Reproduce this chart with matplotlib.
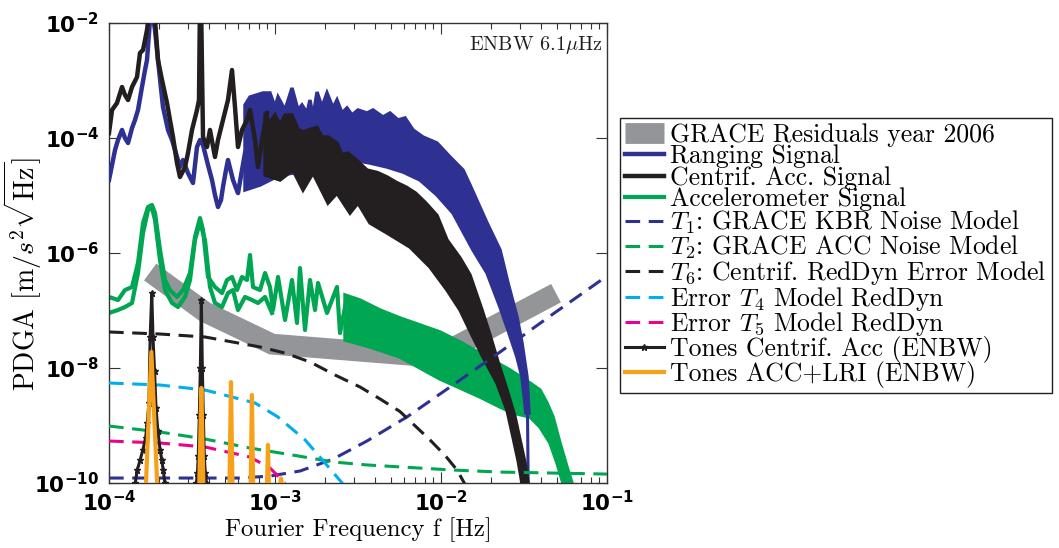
import matplotlib
matplotlib.use('Agg')
import matplotlib.pyplot as plt
import numpy as np
from matplotlib.ticker import LogLocator, NullLocator, NullFormatter

plt.rcParams['font.family'] = 'serif'
plt.rcParams['font.serif'] = ['cmr10', 'DejaVu Serif']
plt.rcParams['mathtext.fontset'] = 'cm'
plt.rcParams['axes.formatter.use_mathtext'] = True

# ---- data (frequency in Hz, PDGA value) ----
# GRACE residuals 2006 (thick grey band)
res_f = [1.77e-4, 3.79e-4, 9.6e-4, 7.46e-3, 1.06e-2, 4.93e-2]
res_v = [4.67e-7, 9.4e-8, 2.6e-8, 1.62e-8, 1.9e-8, 2.0e-7]

# ranging signal, low frequency part
rng_f = [1.00e-4, 1.043e-4, 1.087e-4, 1.133e-4, 1.198e-4, 1.248e-4, 1.302e-4, 1.376e-4, 1.434e-4,
         1.495e-4, 1.580e-4, 1.648e-4, 1.694e-4, 1.766e-4, 1.816e-4, 1.893e-4, 1.973e-4, 2.115e-4,
         2.267e-4, 2.397e-4, 2.498e-4, 2.677e-4, 2.791e-4, 2.991e-4, 3.206e-4, 3.389e-4, 3.533e-4,
         3.684e-4, 3.787e-4, 3.948e-4, 4.173e-4, 4.350e-4, 4.535e-4, 4.728e-4, 4.861e-4, 5.067e-4,
         5.210e-4, 5.432e-4, 5.585e-4, 5.822e-4, 5.985e-4, 6.327e-4, 6.597e-4]
rng_v = [1.86e-5, 3.39e-5, 6.18e-5, 9.23e-5, 1.38e-4, 1.0e-4, 8.18e-5, 1.49e-4, 2.06e-4,
         3.07e-4, 7.71e-4, 1.52e-3, 2.27e-3, 1.13e-2, 1.68e-2, 7.55e-3, 2.27e-3, 3.46e-4,
         1.38e-4, 9.23e-5, 6.18e-5, 3.13e-5, 4.14e-5, 2.46e-5, 1.65e-5, 6.97e-5, 9.23e-5,
         7.55e-5, 5.48e-5, 3.39e-5, 1.86e-5, 1.02e-5, 6.31e-6, 8.35e-6, 1.41e-5, 2.77e-5,
         4.14e-5, 2.56e-5, 1.86e-5, 1.35e-5, 1.10e-5, 2.77e-5, 5.48e-5]
# ranging signal, dense part: upper / lower edge
rng_up_f = [6.597e-4, 7.07e-4, 8.47e-4, 9.33e-4, 1.0e-3, 1.043e-3, 1.149e-3, 1.266e-3, 1.376e-3,
            1.454e-3, 1.559e-3, 1.625e-3, 1.694e-3, 1.791e-3, 1.919e-3, 2.057e-3, 2.236e-3,
            2.363e-3, 2.533e-3, 2.715e-3, 2.910e-3, 3.162e-3, 3.583e-3, 3.894e-3, 4.473e-3,
            4.929e-3, 5.508e-3, 6.07e-3, 6.783e-3, 7.79e-3, 9.46e-3, 1.133e-2, 1.357e-2, 1.495e-2,
            1.893e-2, 2.267e-2, 2.533e-2, 2.870e-2, 3.076e-2, 3.296e-2, 3.388e-2]
rng_up_v = [3.75e-4, 5.16e-4, 6.07e-4, 6.07e-4, 3.46e-4, 5.16e-4, 3.07e-4, 7.41e-4, 3.07e-4,
            3.75e-4, 2.72e-4, 4.58e-4, 2.32e-4, 6.31e-4, 3.46e-4, 6.07e-4, 3.33e-4,
            4.58e-4, 2.72e-4, 3.33e-4, 2.51e-4, 3.07e-4, 2.72e-4, 3.07e-4, 2.32e-4,
            2.72e-4, 2.06e-4, 2.23e-4, 1.38e-4, 1.04e-4, 8.18e-5, 4.68e-5, 2.77e-5, 1.52e-5,
            3.33e-6, 1.13e-6, 3.01e-7, 7.71e-8, 2.72e-8, 6.97e-9, 1.65e-9]
rng_lo_f = [6.597e-4, 8.12e-4, 1.072e-3, 1.414e-3, 1.867e-3, 2.464e-3, 2.951e-3, 3.735e-3, 4.729e-3,
            5.903e-3, 7.472e-3, 9.46e-3, 1.181e-2, 1.559e-2, 1.893e-2, 2.267e-2, 2.533e-2,
            2.870e-2, 3.076e-2, 3.251e-2]
rng_lo_v = [1.25e-5, 1.52e-5, 2.27e-5, 2.56e-5, 3.01e-5, 3.83e-5, 4.14e-5, 3.67e-5, 3.13e-5,
            2.56e-5, 1.86e-5, 1.02e-5, 4.96e-6, 1.13e-6, 4.49e-7, 1.15e-7, 4.58e-8,
            1.55e-8, 6.97e-9, 1.65e-9]
rng_tail_f = [3.32e-2, 3.35e-2]
rng_tail_v = [1.65e-9, 1.0e-10]

# centrifugal acceleration signal
cen_f = [1.00e-4, 1.043e-4, 1.117e-4, 1.198e-4, 1.248e-4, 1.302e-4, 1.376e-4, 1.475e-4, 1.537e-4,
         1.603e-4, 1.694e-4, 1.766e-4, 1.893e-4, 1.973e-4, 2.086e-4, 2.236e-4, 2.330e-4, 2.430e-4,
         2.568e-4, 2.677e-4, 2.870e-4, 2.991e-4, 3.162e-4, 3.389e-4, 3.484e-4, 3.533e-4, 3.583e-4,
         3.684e-4, 3.894e-4, 4.058e-4, 4.350e-4, 4.535e-4, 4.861e-4, 5.210e-4, 5.508e-4, 5.741e-4,
         5.985e-4, 6.327e-4, 6.783e-4, 7.07e-4, 7.58e-4, 7.90e-4, 8.35e-4, 8.95e-4]
cen_v = [1.22e-4, 3.07e-4, 4.06e-4, 7.71e-4, 5.6e-4, 4.58e-4, 7.71e-4, 1.15e-3, 3.01e-3,
         3.39e-3, 7.55e-3, 2.06e-2, 1.13e-2, 2.27e-3, 1.02e-3, 4.06e-4, 2.06e-4, 1.04e-4,
         3.67e-5, 2.10e-5, 3.13e-5, 5.48e-5, 1.38e-4, 3.07e-4, 4.58e-4, 2.5e-2, 2.5e-2,
         1.04e-4, 6.97e-5, 1.38e-4, 4.68e-5, 9.23e-5, 2.06e-4, 4.58e-4, 1.52e-3, 3.46e-4,
         6.97e-5, 1.38e-4, 2.06e-4, 3.07e-4, 9.23e-5, 3.13e-5, 9.23e-5, 2.72e-4]
cen_up_f = [8.71e-4, 9.33e-4, 1.0e-3, 1.072e-3, 1.149e-3, 1.266e-3, 1.376e-3, 1.475e-3, 1.625e-3,
            1.791e-3, 1.919e-3, 2.086e-3, 2.363e-3, 2.533e-3, 2.743e-3, 3.075e-3, 3.583e-3,
            4.153e-3, 4.729e-3, 5.402e-3, 6.17e-3, 7.03e-3, 8.06e-3, 9.46e-3, 1.087e-2, 1.302e-2,
            1.495e-2, 1.766e-2, 1.973e-2, 2.205e-2, 2.498e-2, 2.791e-2, 2.991e-2, 3.206e-2, 3.343e-2]
cen_up_v = [2.72e-4, 1.86e-4, 2.51e-4, 1.68e-4, 2.51e-4, 2.51e-4, 1.41e-4, 1.27e-4, 1.41e-4,
            1.52e-4, 1.04e-4, 1.04e-4, 8.18e-5, 5.1e-5, 5.5e-5, 4.2e-5, 2.77e-5,
            2.5e-5, 2.10e-5, 1.68e-5, 1.4e-5, 1.1e-5, 7.5e-6, 4.5e-6, 1.68e-6, 8.18e-7,
            4.14e-7, 1.02e-7, 3.75e-8, 1.27e-8, 4.14e-9, 1.41e-9, 5.6e-10, 2.23e-10, 1.0e-10]
cen_lo_f = [8.71e-4, 1.072e-3, 1.283e-3, 1.475e-3, 1.694e-3, 2.086e-3, 2.363e-3, 2.830e-3, 3.162e-3,
            3.735e-3, 4.729e-3, 6.507e-3, 8.585e-3, 1.087e-2, 1.302e-2, 1.559e-2, 1.791e-2,
            2.174e-2, 2.498e-2, 2.715e-2, 2.910e-2, 3.076e-2]
cen_lo_v = [2.27e-5, 1.86e-5, 2.77e-5, 1.25e-5, 2.46e-5, 7.41e-6, 1.10e-5, 4.96e-6, 7.41e-6,
            3.33e-6, 2.23e-6, 1.27e-6, 5.71e-7, 2.27e-7, 1.02e-7, 3.46e-8, 1.55e-8,
            5.48e-9, 1.86e-9, 6.31e-10, 2.51e-10, 1.0e-10]

# accelerometer signal (two traces at low frequency, then a dense band)
acc_a_f = [1.00e-4, 1.133e-4, 1.248e-4, 1.376e-4, 1.495e-4, 1.603e-4, 1.718e-4, 1.816e-4, 1.893e-4,
           2.029e-4, 2.175e-4, 2.330e-4, 2.568e-4, 2.791e-4, 3.076e-4, 3.296e-4, 3.533e-4, 3.684e-4,
           3.948e-4, 4.350e-4, 4.794e-4, 5.138e-4, 5.508e-4, 5.903e-4, 6.327e-4, 6.783e-4, 7.07e-4,
           7.37e-4, 8.12e-4, 8.71e-4, 9.33e-4, 9.73e-4, 1.043e-3, 1.149e-3, 1.266e-3, 1.357e-3,
           1.414e-3, 1.516e-3, 1.625e-3, 1.742e-3, 1.816e-3, 2.057e-3, 2.363e-3, 2.464e-3,
           2.715e-3, 2.910e-3]
acc_a_v = [1.72e-7, 1.52e-7, 2.27e-7, 2.56e-7, 6.70e-7, 3.33e-6, 6.31e-6, 6.84e-6, 4.96e-6,
           1.13e-6, 3.39e-7, 2.27e-7, 1.72e-7, 2.27e-7, 4.49e-7, 1.90e-6, 4.06e-6, 2.51e-6,
           3.83e-7, 2.56e-7, 2.01e-7, 3.39e-7, 3.83e-7, 2.27e-7, 3.83e-7, 3.39e-7, 9.23e-7,
           2.56e-7, 2.27e-7, 4.49e-7, 2.56e-7, 1.02e-7, 3.83e-7, 6.84e-8, 3.39e-7, 6.07e-8,
           5.48e-7, 4.58e-8, 3.39e-7, 1.02e-7, 3.01e-7, 9.06e-8, 2.56e-7, 4.06e-8,
           1.72e-7, 4.58e-8]
acc_b_f = [1.00e-4, 1.133e-4, 1.248e-4, 1.376e-4, 1.495e-4, 1.603e-4, 1.718e-4, 1.816e-4, 1.893e-4,
           2.029e-4, 2.175e-4, 2.397e-4, 2.604e-4, 2.870e-4, 3.076e-4, 3.296e-4, 3.533e-4, 3.787e-4,
           4.058e-4, 4.350e-4, 4.794e-4, 5.210e-4, 5.585e-4, 5.985e-4, 6.597e-4, 7.27e-4, 7.90e-4,
           8.71e-4, 9.59e-4]
acc_b_v = [9.06e-8, 1.02e-7, 1.15e-7, 1.35e-7, 4.49e-7, 2.23e-6, 5.6e-6, 6.07e-6, 3.75e-6,
           7.55e-7, 2.27e-7, 1.35e-7, 1.15e-7, 1.72e-7, 3.39e-7, 1.68e-6, 3.46e-6, 1.68e-6,
           2.56e-7, 1.35e-7, 1.15e-7, 2.01e-7, 2.27e-7, 1.02e-7, 1.72e-7, 1.52e-7, 1.35e-7,
           1.72e-7, 9.06e-8]
acc_up_f = [2.641e-3, 3.251e-3, 4.291e-3, 5.662e-3, 7.472e-3, 9.86e-3, 1.302e-2, 1.893e-2, 2.604e-2,
            3.437e-2, 3.948e-2, 4.350e-2, 4.728e-2, 5.21e-2, 5.741e-2, 6.153e-2]
acc_up_v = [1.86e-7, 1.52e-7, 1.02e-7, 7.41e-8, 5.6e-8, 4.23e-8, 2.83e-8, 1.55e-8, 9.23e-9,
            5.48e-9, 4.14e-9, 2.46e-9, 1.41e-9, 4.96e-10, 1.9e-10, 1.0e-10]
acc_lo_f = [2.641e-3, 3.735e-3, 5.662e-3, 7.472e-3, 9.86e-3, 1.302e-2, 1.718e-2, 2.267e-2, 2.715e-2,
            3.437e-2, 3.948e-2, 4.535e-2, 5.0e-2, 5.43e-2]
acc_lo_v = [3.07e-8, 2.32e-8, 1.55e-8, 1.0e-8, 6.44e-9, 4.49e-9, 3.13e-9, 2.10e-9, 1.65e-9,
            1.41e-9, 9.4e-10, 4.96e-10, 2.23e-10, 1.0e-10]

# noise / error models
t1_f = [1.0e-4, 6.15e-4, 9.33e-4, 1.42e-3, 2.24e-3, 3.58e-3, 6.24e-3, 1.18e-2, 2.27e-2, 4.73e-2, 1.0e-1]
t1_v = [1.22e-10, 1.22e-10, 1.32e-10, 1.62e-10, 2.61e-10, 5.37e-10, 1.41e-9, 5.06e-9, 1.9e-8, 8.7e-8, 3.98e-7]
t2_f = [1.0e-4, 2.03e-4, 3.79e-4, 7.06e-4, 1.38e-3, 2.24e-3, 3.58e-3, 1.18e-2, 2.27e-2, 1.0e-1]
t2_v = [9.8e-10, 7.7e-10, 5.82e-10, 4.06e-10, 2.95e-10, 2.32e-10, 2.06e-10, 1.68e-10, 1.55e-10, 1.43e-10]
t6_f = [1.0e-4, 2.03e-4, 3.79e-4, 8.13e-4, 1.15e-3, 1.63e-3, 2.30e-3, 3.25e-3, 4.29e-3, 5.66e-3,
        8.59e-3, 1.06e-2, 1.25e-2, 1.40e-2]
t6_v = [4.23e-8, 3.9e-8, 3.46e-8, 2.32e-8, 1.82e-8, 1.27e-8, 7.55e-9, 4.68e-9, 2.9e-9, 1.75e-9,
        5.6e-10, 3.0e-10, 1.68e-10, 9.3e-11]
t4_f = [1.0e-4, 2.03e-4, 3.79e-4, 7.59e-4, 1.04e-3, 1.52e-3, 2.57e-3]
t4_v = [5.48e-9, 5.06e-9, 4.14e-9, 2.46e-9, 1.41e-9, 5.6e-10, 9.6e-11]
t5_f = [1.0e-4, 2.03e-4, 3.79e-4, 7.06e-4, 9.33e-4, 1.15e-3]
t5_v = [5.37e-10, 4.96e-10, 4.23e-10, 2.83e-10, 1.82e-10, 1.0e-10]

# tones of the centrifugal acceleration (ENBW)
tone1_f = [1.44e-4, 1.48e-4, 1.54e-4, 1.60e-4, 1.66e-4, 1.70e-4, 1.74e-4, 1.77e-4, 1.81e-4,
           1.84e-4, 1.88e-4, 1.92e-4, 1.97e-4, 2.03e-4, 2.08e-4, 2.12e-4, 2.17e-4]
tone1_v = [1.0e-10, 1.7e-10, 2.5e-10, 3.8e-10, 6.0e-10, 1.1e-9, 2.5e-9, 3.5e-8, 2.0e-7,
           3.5e-8, 9.0e-9, 2.0e-9, 8.0e-10, 3.8e-10, 2.5e-10, 1.7e-10, 1.0e-10]
tone2_f = [3.36e-4, 3.41e-4, 3.45e-4, 3.50e-4, 3.55e-4, 3.60e-4, 3.65e-4, 3.70e-4, 3.75e-4, 3.80e-4, 3.86e-4]
tone2_v = [1.0e-10, 1.5e-10, 3.0e-10, 1.5e-9, 1.0e-8, 1.5e-7, 1.0e-8, 1.5e-9, 3.0e-10, 1.5e-10, 1.0e-10]

# tones ACC+LRI (ENBW): peak frequency, peak value, foot left / right
lri_f = [1.80e-4, 3.60e-4, 5.43e-4, 7.26e-4, 9.07e-4, 1.087e-3]
lri_v = [1.9e-8, 4.5e-9, 5.7e-9, 3.4e-9, 4.6e-10, 1.2e-10]
lri_lo = [1.67e-4, 3.50e-4, 5.32e-4, 7.14e-4, 8.96e-4, 1.076e-3]
lri_hi = [1.95e-4, 3.70e-4, 5.54e-4, 7.38e-4, 9.18e-4, 1.098e-3]
lri_floor = 1.0e-10

xtick_vals = [1e-4, 1e-3, 1e-2, 1e-1]
xtick_labels = [r'$\mathbf{10^{-4}}$', r'$\mathbf{10^{-3}}$', r'$\mathbf{10^{-2}}$', r'$\mathbf{10^{-1}}$']
ytick_vals = [1e-10, 1e-8, 1e-6, 1e-4, 1e-2]
ytick_labels = [r'$\mathbf{10^{-10}}$', r'$\mathbf{10^{-8}}$', r'$\mathbf{10^{-6}}$',
                r'$\mathbf{10^{-4}}$', r'$\mathbf{10^{-2}}$']

C_BLUE = '#2E3192'
C_BLACK = '#231F20'
C_GREEN = '#00A651'
C_GRAY = '#939598'
C_CYAN = '#00AEEF'
C_MAGENTA = '#EC008C'
C_ORANGE = '#F7A11A'
DASH = (0, (4.8, 2.8))

fig = plt.figure(figsize=(10.59, 5.48), dpi=100)
ax = fig.add_axes([109 / 1059, 1 - 483 / 548, 498 / 1059, 460 / 548])
ax.set_xscale('log')
ax.set_yscale('log')

h_res, = ax.plot(res_f, res_v, color=C_GRAY, lw=15, solid_capstyle='butt',
                 solid_joinstyle='miter', zorder=1)

# accelerometer
h_acc, = ax.plot(acc_a_f, acc_a_v, color=C_GREEN, lw=3.0, zorder=2)
ax.plot(acc_b_f, acc_b_v, color=C_GREEN, lw=3.0, zorder=2)
ax.fill(acc_up_f + acc_lo_f[::-1], acc_up_v + acc_lo_v[::-1], color=C_GREEN, lw=2.5, zorder=2)

# ranging
h_rng, = ax.plot(rng_f, rng_v, color=C_BLUE, lw=3.2, zorder=3)
ax.fill(rng_up_f + rng_lo_f[::-1], rng_up_v + rng_lo_v[::-1], color=C_BLUE, lw=2.5, zorder=3)
ax.plot(rng_tail_f, rng_tail_v, color=C_BLUE, lw=2.2, zorder=3)

# centrifugal
h_cen, = ax.plot(cen_f, cen_v, color=C_BLACK, lw=3.2, zorder=4)
ax.fill(cen_up_f + cen_lo_f[::-1], cen_up_v + cen_lo_v[::-1], color=C_BLACK, lw=2.5, zorder=4)

# models
h_t1, = ax.plot(t1_f, t1_v, color=C_BLUE, lw=2.2, ls=DASH, zorder=5)
h_t2, = ax.plot(t2_f, t2_v, color=C_GREEN, lw=2.2, ls=DASH, zorder=5)
h_t6, = ax.plot(t6_f, t6_v, color=C_BLACK, lw=2.2, ls=DASH, zorder=5)
h_t4, = ax.plot(t4_f, t4_v, color=C_CYAN, lw=2.2, ls=DASH, zorder=5)
h_t5, = ax.plot(t5_f, t5_v, color=C_MAGENTA, lw=2.2, ls=DASH, zorder=5)

# tones
h_tone, = ax.plot(tone1_f, tone1_v, color=C_BLACK, lw=2.2, marker='*', ms=5, zorder=6)
ax.plot(tone2_f, tone2_v, color=C_BLACK, lw=2.2, marker='*', ms=5, zorder=6)
for i in range(len(lri_f)):
    h_lri, = ax.plot([lri_lo[i], lri_f[i], lri_hi[i]], [lri_floor, lri_v[i], lri_floor],
                     color=C_ORANGE, lw=3.0, zorder=7)

ax.set_xlim(1e-4, 1e-1)
ax.set_ylim(1e-10, 1e-2)

ax.set_xticks(xtick_vals, xtick_labels, math_fontfamily='dejavusans', fontsize=15.5)
ax.set_yticks(ytick_vals, ytick_labels, math_fontfamily='dejavusans', fontsize=15.5)
ax.xaxis.set_minor_locator(LogLocator(base=10, subs=np.arange(2, 10) * 1.0, numticks=20))
ax.xaxis.set_minor_formatter(NullFormatter())
ax.yaxis.set_minor_locator(NullLocator())
ax.tick_params(which='both', direction='in', top=True, right=True, width=0.8, color='#333333')
ax.tick_params(which='major', length=8)
ax.tick_params(which='minor', length=4)
ax.tick_params(axis='x', pad=5)
ax.tick_params(axis='y', pad=7)
for sp in ax.spines.values():
    sp.set_linewidth(1.0)
    sp.set_color('#333333')

ax.set_xlabel('Fourier Frequency f [Hz]', fontsize=17.8)
ax.xaxis.set_label_coords(0.5, -0.075)
ax.set_ylabel(r'PDGA $[\mathrm{m}/s^2\sqrt{\mathrm{Hz}}]$', fontsize=20)
ax.yaxis.set_label_coords(-0.131, 0.454)

ax.text(0.992, 0.952, r'ENBW 6.1$\mu$Hz', transform=ax.transAxes, ha='right', va='center',
        fontsize=14.5, color=C_BLACK)

handles = [h_res, h_rng, h_cen, h_acc, h_t1, h_t2, h_t6, h_t4, h_t5, h_tone, h_lri]
labels = ['GRACE Residuals year 2006', 'Ranging Signal', 'Centrif. Acc. Signal',
          'Accelerometer Signal', r'$T_1$: GRACE KBR Noise Model', r'$T_2$: GRACE ACC Noise Model',
          r'$T_6$: Centrif. RedDyn Error Model', r'Error $T_4$ Model RedDyn',
          r'Error $T_5$ Model RedDyn', 'Tones Centrif. Acc (ENBW)', 'Tones ACC+LRI (ENBW)']
leg = fig.legend(handles, labels, loc='upper left', bbox_to_anchor=(620 / 1059, 1 - 118 / 548),
                 fontsize=18.5, frameon=True, fancybox=False, edgecolor=C_BLACK, framealpha=1,
                 handlelength=1.5, handletextpad=0.25, labelspacing=-0.09, borderpad=0.2,
                 borderaxespad=0, numpoints=1)
leg.get_frame().set_linewidth(1.0)

fig.savefig('out.png', dpi=100)
